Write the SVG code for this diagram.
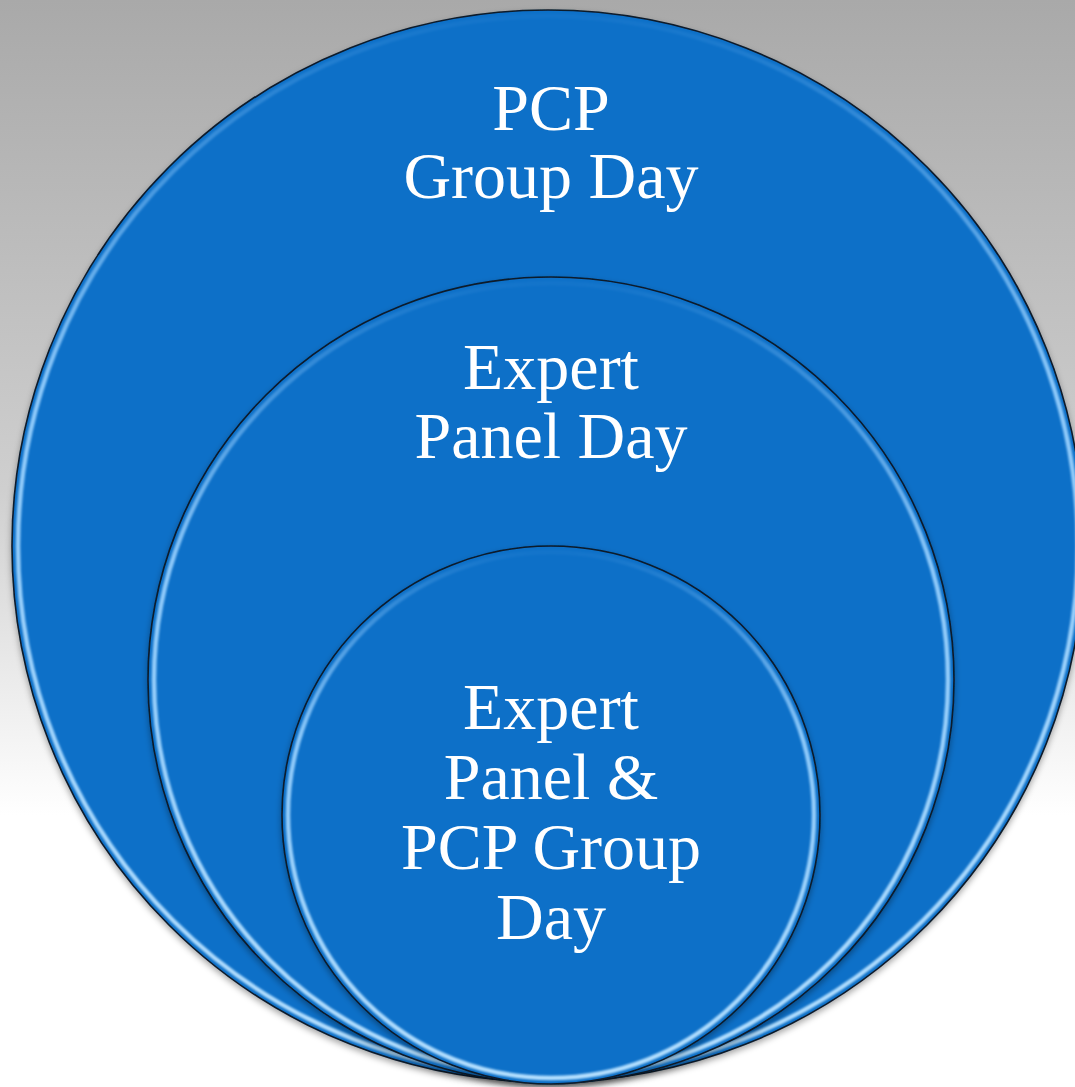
<svg xmlns="http://www.w3.org/2000/svg" width="1075" height="1087" viewBox="0 0 1075 1087">
<defs>
<linearGradient id="bg" x1="0" y1="0" x2="0" y2="1">
<stop offset="0" stop-color="#a9a9a9"/>
<stop offset="0.45" stop-color="#cfcfcf"/>
<stop offset="0.75" stop-color="#ffffff"/>
<stop offset="1" stop-color="#ffffff"/>
</linearGradient>
<linearGradient id="hl" x1="0" y1="0" x2="0" y2="1">
<stop offset="0" stop-color="#8fcaff" stop-opacity="0.05"/>
<stop offset="0.35" stop-color="#9ad2ff" stop-opacity="0.9"/>
<stop offset="1" stop-color="#b5e0ff" stop-opacity="1"/>
</linearGradient>
<filter id="sh" x="-10%" y="-10%" width="120%" height="120%">
<feDropShadow dx="0" dy="3" stdDeviation="3" flood-color="#000" flood-opacity="0.35"/>
</filter>
<filter id="blur"><feGaussianBlur stdDeviation="0.8"/></filter>
</defs>
<style>
.disc{fill:#1170c8;stroke:#0a1a2a;stroke-width:1.6}
.hl{fill:none;stroke:url(#hl);stroke-width:4.5}
.lbl{font-family:"Liberation Serif","DejaVu Serif",serif;font-size:66px;fill:#ffffff;text-anchor:middle}
</style>
<rect width="1075" height="1087" fill="url(#bg)"/>
<g id="outer">
<circle class="disc" cx="548" cy="546" r="536" filter="url(#sh)"/>
<circle class="hl" cx="548" cy="546" r="530" filter="url(#blur)"/>
<text class="lbl" x="551" y="130">PCP</text>
<text class="lbl" x="551" y="198">Group Day</text>
</g>
<g id="middle">
<circle class="disc" cx="551" cy="680" r="403" filter="url(#sh)"/>
<circle class="hl" cx="551" cy="680" r="397" filter="url(#blur)"/>
<text class="lbl" x="551" y="389">Expert</text>
<text class="lbl" x="551" y="458">Panel Day</text>
</g>
<g id="inner">
<circle class="disc" cx="551" cy="815" r="269" filter="url(#sh)"/>
<circle class="hl" cx="551" cy="815" r="263" filter="url(#blur)"/>
<text class="lbl" x="551" y="729">Expert</text>
<text class="lbl" x="551" y="799">Panel &amp;</text>
<text class="lbl" x="551" y="869">PCP Group</text>
<text class="lbl" x="551" y="939">Day</text>
</g>
<g id="connectors"/>
</svg>
